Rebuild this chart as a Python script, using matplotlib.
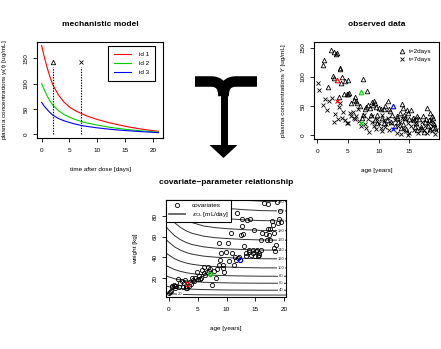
import matplotlib
matplotlib.use("Agg")
import matplotlib.pyplot as plt
from matplotlib.path import Path
from matplotlib.patches import PathPatch, Polygon
import numpy as np

plt.rcParams['font.family'] = ['Liberation Sans', 'DejaVu Sans']
plt.rcParams['mathtext.fontset'] = 'dejavusans'

# ---- mechanistic model: concentration curves of three individuals
t_days = [0, 0.5, 1, 1.5, 2, 3, 4, 5, 6, 7, 8, 10, 12, 14, 16, 18, 21]
conc_id1 = [175, 151, 131, 113, 98, 78, 64, 54, 47, 42, 37, 29.5, 23.5, 18.5, 14, 10.5, 6]
conc_id2 = [100, 87, 76, 66, 58, 47, 39.5, 34, 29.5, 26, 23, 18.5, 14.5, 11.5, 9, 7, 4.5]
conc_id3 = [63, 55, 49, 43, 38, 31.5, 27, 23.5, 20.5, 18, 16, 13, 10.5, 8.5, 7, 5.5, 3.5]
id_labels = ['id 1', 'id 2', 'id 3']
id_colors = ['#FF0000', '#00CD00', '#0000FF']
sample_days = [2, 7]

# ---- observed data
tri_age = [1.0, 1.1, 2.2, 2.8, 3.2, 3.1, 3.7, 3.8, 1.8, 2.6, 2.7, 4.0, 4.5, 5.1, 3.9, 7.4, 8.1,
           4.3, 4.8, 5.2, 5.0, 3.6, 6.2, 6.0, 6.3, 6.5, 5.5, 7.0, 7.8, 8.0, 8.3, 8.6, 9.0, 9.2,
           9.4, 9.1, 9.6, 10.0, 10.3, 10.8, 11.0, 11.5, 11.8, 12.2, 12.9, 13.0, 13.4, 13.8, 13.9,
           14.1, 14.3, 14.6, 14.8, 15.0, 15.2, 15.5, 15.7, 16.0, 16.3, 16.5, 16.8, 17.0, 17.3,
           17.5, 17.8, 18.0, 18.2, 18.4, 18.6, 18.8, 19.0, 19.2, 18.9, 10.5, 9.8, 11.3, 12.0,
           13.2, 8.8, 7.5, 7.3, 14.0, 15.9, 16.2, 12.6, 17.7, 11.6, 10.9, 9.4, 9.7, 14.5, 13.6,
           17.2, 18.3]
tri_conc = [120, 129, 146, 143, 141, 139, 115, 113, 83, 101, 98, 99, 93, 95, 90, 96, 75,
            70, 71, 72, 70, 66, 65, 61, 58, 55, 55, 50, 45, 48, 52, 47, 57, 59,
            55, 52, 48, 47, 44, 45, 50, 58, 42, 35, 30, 33, 38, 53, 46,
            35, 30, 43, 38, 28, 43, 30, 25, 20, 33, 28, 14, 10, 5,
            22, 47, 15, 25, 38, 33, 20, 18, 12, 30, 30, 20, 25, 22,
            22, 35, 35, 30, 18, 13, 8, 15, 28, 45, 20, 25, 35, 10, 12,
            32, 10]
crs_age = [0.2, 0.35, 1.0, 1.3, 1.6, 2.5, 2.9, 2.7, 3.6, 3.4, 3.8, 4.2, 4.0, 4.5, 4.8, 5.3,
           5.5, 5.1, 6.0, 6.2, 6.6, 6.8, 7.6, 7.8, 8.0, 8.2, 8.5, 8.9, 9.2, 9.5, 9.8, 10.0,
           10.3, 10.6, 10.9, 11.2, 11.5, 11.7, 12.0, 12.6, 12.9, 13.1, 13.4, 13.7, 14.0, 14.2,
           14.5, 14.7, 15.0, 15.3, 15.6, 15.8, 16.1, 16.4, 16.7, 17.0, 17.3, 17.6, 17.9, 18.1,
           18.3, 18.6, 18.9, 19.1, 19.3, 2.0, 5.8, 9.0, 10.5, 13.8, 16.0, 18.5, 11.0, 14.8,
           6.4, 7.1]
crs_conc = [90, 77, 52, 62, 43, 64, 36, 22, 48, 28, 55, 40, 30, 25, 21, 38,
            33, 20, 30, 28, 45, 24, 35, 18, 12, 28, 5, 22, 16, 10, 28, 20,
            12, 6, 25, 18, 30, 8, 20, 25, 4, 15, 22, 2, 12, 28,
            7, 20, 3, 15, 25, 9, 18, 4, 12, 22, 8, 15, 3, 20,
            11, 6, 15, 2, 9, 58, 40, 32, 35, 30, 30, 26, 14, 0,
            32, 15]

# ---- covariates
cov_age = [0.1, 0.2, 0.3, 0.5, 0.6, 0.9, 1.0, 1.1, 1.3, 1.6, 1.8, 2.0, 2.2, 2.4, 2.6, 2.8,
           3.0, 3.4, 3.6, 3.8, 4.0, 4.2, 4.5, 4.8, 5.0, 5.2, 5.6, 5.8, 6.1, 6.3, 6.6, 6.8,
           7.1, 7.5, 7.8, 8.1, 8.3, 8.6, 8.9, 9.1, 9.3, 9.6, 9.9, 10.2, 10.5, 10.8, 11.0,
           11.3, 11.5, 11.8, 12.0, 12.5, 12.7, 12.9, 13.1, 13.4, 13.6, 13.8, 14.0, 14.3, 14.5,
           14.8, 15.0, 15.3, 15.6, 15.9, 16.2, 16.5, 16.8, 17.0, 17.2, 17.4, 17.6, 17.8, 18.0,
           18.2, 18.4, 18.6, 18.7, 18.9, 19.0, 19.2, 19.4, 13.3, 13.9, 14.6, 15.1, 15.4, 12.2,
           11.7, 8.7, 9.4, 7.0, 6.0, 5.4, 4.4, 3.2, 2.9, 16.0, 15.7, 17.1, 18.3, 17.6, 12.6]
cov_wt = [5, 6, 7, 11, 12, 13, 12, 10, 12, 19, 11, 15, 17, 11, 15, 18,
          10, 12, 16.5, 14, 20, 18, 20, 26, 19, 22, 20, 28, 31, 23, 26, 31,
          29, 13.5, 27, 20, 29, 54, 37, 44, 33, 26, 45, 54, 36, 64, 44,
          33, 40, 83, 39, 62, 77, 63, 51, 41, 76, 45, 77, 42, 47,
          67, 41, 47, 44, 57, 64, 93, 63, 57, 92, 62, 68, 75, 71,
          49, 46, 52, 94, 73, 77, 85, 74, 44, 47, 44, 46, 41, 40,
          37, 33, 30, 27, 25, 19, 17, 10, 12, 47, 42, 68, 64, 57, 70]

# highlighted individuals (id 1, id 2, id 3)
hl_age = [3.2, 7.2, 12.3]
hl_wt = [13.8, 24.2, 37.6]
hl_c2 = [95, 74, 49.5]
hl_c7 = [58, 21, 10]

# ---- clearance iso-lines: weight along each line, read at these ages
iso_age = [-0.6, 0, 1, 2, 3, 4, 6, 8, 10, 13, 16, 20.5]
iso_levels = [20, 40, 60, 80, 100, 120, 140, 160, 180, 200, 220, 240]
iso_wt = [
    [5.1, 4.8, 4.4, 4.1, 3.9, 3.8, 3.6, 3.55, 3.5, 3.45, 3.4, 3.4],
    [12.2, 11.5, 10.5, 9.9, 9.4, 9.1, 8.7, 8.5, 8.3, 8.2, 8.1, 8.1],
    [22.2, 21.0, 19.2, 18.1, 17.2, 16.6, 15.8, 15.5, 15.2, 15.0, 14.9, 14.8],
    [32.4, 30.7, 28.1, 26.4, 25.1, 24.2, 23.1, 22.6, 22.2, 21.9, 21.7, 21.6],
    [44.6, 42.2, 38.6, 36.2, 34.5, 33.3, 31.8, 31.0, 30.6, 30.1, 29.8, 29.7],
    [57.8, 54.7, 50.1, 47.0, 44.7, 43.1, 41.2, 40.2, 39.7, 39.1, 38.7, 38.5],
    [70.4, 66.6, 61.0, 57.2, 54.4, 52.5, 50.2, 49.0, 48.3, 47.6, 47.1, 46.9],
    [84.9, 80.4, 73.6, 69.1, 65.7, 63.4, 60.6, 59.1, 58.3, 57.4, 56.9, 56.6],
    [98.9, 93.6, 85.7, 80.4, 76.4, 73.8, 70.5, 68.9, 67.9, 66.9, 66.2, 65.9],
    [113, 106.9, 97.9, 91.9, 87.3, 84.3, 80.6, 78.7, 77.6, 76.4, 75.7, 75.3],
    [127.5, 120.7, 110.5, 103.7, 98.6, 95.2, 91.0, 88.8, 87.6, 86.3, 85.4, 85.0],
    [141, 133.6, 122.3, 114.8, 109.2, 105.4, 100.7, 98.3, 96.9, 95.5, 94.6, 94.1],
]

W, H = 441, 349
fig = plt.figure(figsize=(W / 100, H / 100), dpi=100)


def px_axes(x0, y0, x1, y1):
    ax = fig.add_axes([x0 / W, 1 - y1 / H, (x1 - x0) / W, (y1 - y0) / H])
    for s in ax.spines.values():
        s.set_linewidth(0.8)
        s.set_color('black')
    ax.tick_params(length=3, width=0.6, labelsize=4.6, colors='black')
    ax.tick_params(axis='x', pad=4.3)
    ax.tick_params(axis='y', pad=3.2, labelrotation=90)
    for lab in ax.get_yticklabels():
        lab.set_va('center')
    return ax


def labels(ax, title, xlab, ylab, wpx, hpx):
    ax.set_title(title, fontsize=6, fontweight='bold', pad=11.5)
    ax.set_xlabel(xlab, fontsize=4.6)
    ax.set_ylabel(ylab, fontsize=4.6)
    ax.xaxis.set_label_coords(0.5, -29 / hpx)
    ax.yaxis.set_label_coords(-28 / wpx, 0.5)


# panel 1
ax1 = px_axes(37, 42, 163, 138)
for c, col, lab in zip([conc_id1, conc_id2, conc_id3], id_colors, id_labels):
    ax1.plot(t_days, c, color=col, lw=0.8, label=lab)
for d, m in zip(sample_days, ['^', 'x']):
    ax1.vlines(d, 0, 133, colors='black', linestyles=(0, (1.2, 1.2)), lw=0.8)
    ax1.plot([d], [143], marker=m, ms=3.2, mfc='none', mec='black', mew=0.6, ls='none')
ax1.set_xlim(-0.84, 21.84)
ax1.set_ylim(-7, 182)
ax1.set_xticks([0, 5, 10, 15, 20])
ax1.set_yticks([0, 50, 100, 150])
for lab in ax1.get_yticklabels():
    lab.set_va('center')
leg = ax1.legend(loc='upper right', bbox_to_anchor=(1 - 8 / 126, 1 - 4 / 96), borderaxespad=0,
                 fontsize=4.6, handlelength=2.6, labelspacing=0.55, borderpad=0.9,
                 handletextpad=1.3, fancybox=False, edgecolor='black', framealpha=1)
leg.get_frame().set_linewidth(0.8)
labels(ax1, 'mechanistic model', 'time after dose [days]',
       'plasma concentrations y$\\mathregular{_i}$(t) [ug/mL]', 126, 96)

# panel 2
ax2 = px_axes(314, 42, 439, 139)
ax2.plot(tri_age, tri_conc, ls='none', marker='^', ms=3.3, mfc='none', mec='black', mew=0.6,
         label='t=2days')
ax2.plot(crs_age, crs_conc, ls='none', marker='x', ms=3.0, mec='black', mew=0.6,
         label='t=7days')
for a, c2, c7, col in zip(hl_age, hl_c2, hl_c7, id_colors):
    ax2.plot([a], [c2], ls='none', marker='^', ms=3.3, mfc='none', mec=col, mew=0.8)
    ax2.plot([a], [c7], ls='none', marker='x', ms=3.0, mec=col, mew=0.8)
ax2.set_xlim(-0.5, 19.8)
ax2.set_ylim(-7, 160)
ax2.set_xticks([0, 5, 10, 15])
ax2.set_yticks([0, 50, 100, 150])
for lab in ax2.get_yticklabels():
    lab.set_va('center')
ax2.legend(loc='upper right', bbox_to_anchor=(1.0, 1.0), frameon=False, fontsize=4.6,
           handlelength=1.0, labelspacing=0.35, borderpad=0.6, handletextpad=0.6)
labels(ax2, 'observed data', 'age [years]', 'plasma concentrations Y [ug/mL]', 125, 97)

# panel 3
ax3 = px_axes(166, 200, 286, 297)
for lev, wts in zip(iso_levels, iso_wt):
    ax3.plot(iso_age, wts, color='#303030', lw=0.7, zorder=1)
    if lev == 20:
        lx, ly = 1.9, 4.15
    else:
        lx, ly = 19.45, wts[-1]
    ax3.text(lx, ly, str(lev), fontsize=3.0, color='#303030', ha='center', va='center',
             zorder=2, bbox=dict(facecolor='white', edgecolor='none', pad=0.3))
ax3.plot(cov_age, cov_wt, ls='none', marker='o', ms=3.0, mfc='none', mec='black', mew=0.6,
         zorder=3, label='covariates')
for a, w, col in zip(hl_age, hl_wt, id_colors):
    ax3.plot([a], [w], ls='none', marker='o', ms=3.0, mfc='none', mec=col, mew=0.9, zorder=4)
ax3.plot([], [], color='#606060', lw=1.3, label='$\\epsilon_{\\mathrm{CL}}$ [mL/day]')
ax3.set_xlim(-0.5, 20.3)
ax3.set_ylim(1.5, 95.7)
ax3.set_xticks([0, 5, 10, 15, 20])
ax3.set_yticks([20, 40, 60, 80])
for lab in ax3.get_yticklabels():
    lab.set_va('center')
leg3 = ax3.legend(loc='upper left', bbox_to_anchor=(0, 1), borderaxespad=0, fontsize=4.6,
                  handlelength=2.6, labelspacing=0.3, borderpad=0.4, handletextpad=1.0,
                  fancybox=False, edgecolor='black', framealpha=1)
leg3.get_frame().set_linewidth(0.8)
leg3.set_zorder(10)
labels(ax3, 'covariate\u2212parameter relationship', 'age [years]', 'weight [kg]', 120, 97)

# big black arrow between the panels
def fp(x, y):
    return (x / W, 1 - y / H)

for xe in (195, 257):
    xm = 211 if xe < 223.5 else 236
    arm = Path([fp(xe, 81.5), fp(xm, 81.5), fp(223.5, 81.5), fp(223.5, 96)],
               [Path.MOVETO, Path.LINETO, Path.CURVE3, Path.CURVE3])
    fig.add_artist(PathPatch(arm, transform=fig.transFigure, facecolor='none',
                             edgecolor='black', lw=7.6, capstyle='butt'))
stem = Path([fp(223.5, 92), fp(223.5, 147)], [Path.MOVETO, Path.LINETO])
fig.add_artist(PathPatch(stem, transform=fig.transFigure, facecolor='none',
                         edgecolor='black', lw=5.0, capstyle='butt'))
fig.add_artist(Polygon([fp(209.5, 145), fp(237.5, 145), fp(223.5, 158)], closed=True,
                       transform=fig.transFigure, facecolor='black', edgecolor='none'))

fig.savefig('out.png', dpi=100)
